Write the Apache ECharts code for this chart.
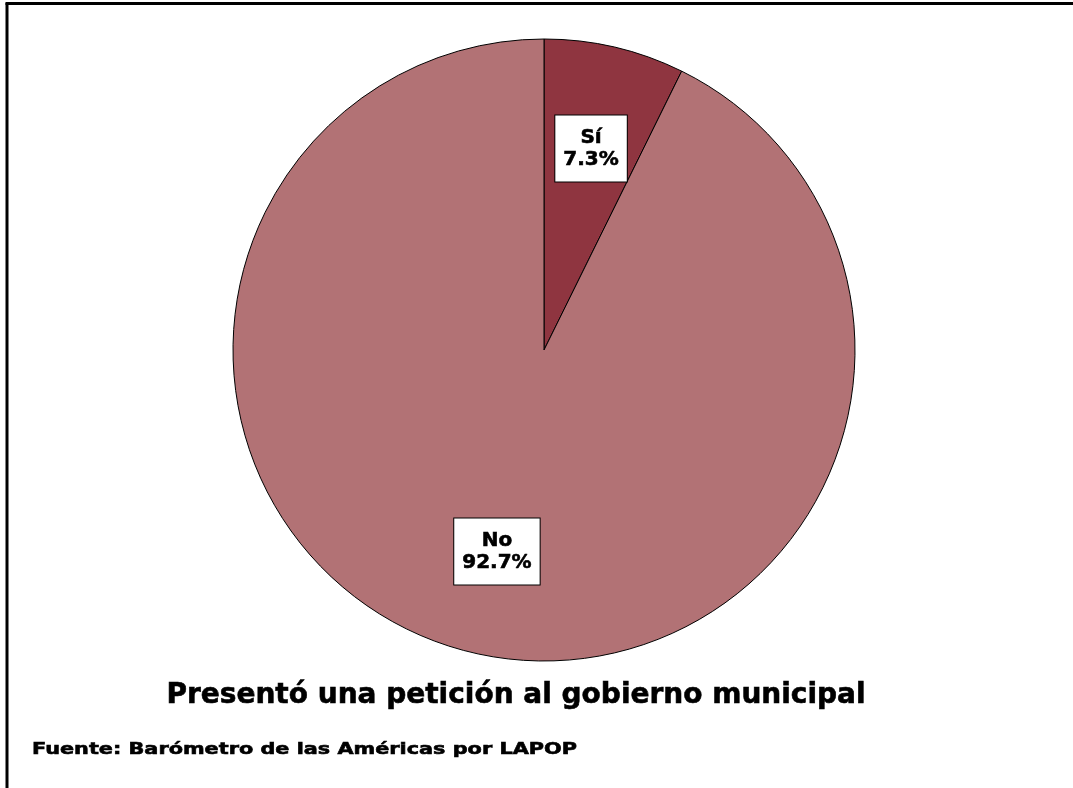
<!DOCTYPE html>
<html>
<head>
<meta charset="utf-8">
<script src="https://cdn.jsdelivr.net/npm/echarts@6/dist/echarts.min.js"></script>
<style>
html,body{margin:0;padding:0;background:#fff;}
#chart{width:1073px;height:788px;}
</style>
</head>
<body>
<div id="chart"></div>
<script>
// datos
var categorias = ['Sí', 'No'];
var valores = [7.3, 92.7];
var colores = ['#8F3540', '#B27275'];
var titulo = 'Presentó una petición al gobierno municipal';
var fuente = 'Fuente: Barómetro de las Américas por LAPOP';

var datos = [], datosEtiq = [];
for (var i = 0; i < categorias.length; i++) {
	datos.push({name: categorias[i], value: valores[i], itemStyle: {color: colores[i]}});
	datosEtiq.push({name: categorias[i], value: valores[i]});
}

var chart = echarts.init(document.getElementById('chart'));
var option = {
	animation: false,
	graphic: [
		{type: 'line', shape: {x1: 7, y1: 3, x2: 7, y2: 788}, style: {stroke: '#000', lineWidth: 3}},
		{type: 'line', shape: {x1: 5.5, y1: 3.5, x2: 1073, y2: 3.5}, style: {stroke: '#000', lineWidth: 3}},
		// titulo
		{type: 'text', x: 516, y: 696, silent: true,
			style: {text: titulo, fontFamily: 'DejaVu Sans', fontWeight: 'bold', fontSize: 28,
				fill: '#000', stroke: '#000', lineWidth: 0.6, align: 'center', verticalAlign: 'middle'}},
		// fuente
		{type: 'text', x: 32, y: 750, scaleX: 1.3, silent: true,
			style: {text: fuente, fontFamily: 'DejaVu Sans', fontWeight: 'bold', fontSize: 16,
				fill: '#000', stroke: '#000', lineWidth: 0.6, align: 'left', verticalAlign: 'middle'}}
	],
	series: [{
		// sectores
		type: 'pie',
		center: [544, 350],
		radius: [0, 311],
		startAngle: 90,
		clockwise: true,
		silent: true,
		label: {show: false},
		labelLine: {show: false},
		itemStyle: {borderColor: '#000', borderWidth: 1},
		data: datos
	}, {
		// etiquetas (serie invisible, radio doble para situar las cajas)
		type: 'pie',
		center: [544, 350],
		radius: [0, 408],
		startAngle: 90,
		clockwise: true,
		silent: true,
		itemStyle: {color: 'rgba(0,0,0,0)', borderWidth: 0},
		labelLine: {show: false},
		label: {
			show: true,
			position: 'inside',
			formatter: function (p) { return p.name + '\n' + p.value.toFixed(1) + '%'; },
			fontFamily: 'DejaVu Sans',
			fontWeight: 'bold',
			fontSize: 20,
			lineHeight: 22,
			color: '#000',
			textBorderColor: '#000',
			textBorderWidth: 0.6,
			backgroundColor: '#fff',
			borderColor: '#000',
			borderWidth: 1,
			padding: [11, 8, 11, 8],
			align: 'center'
		},
		data: datosEtiq
	}]
};
chart.setOption(option);
</script>
</body>
</html>
